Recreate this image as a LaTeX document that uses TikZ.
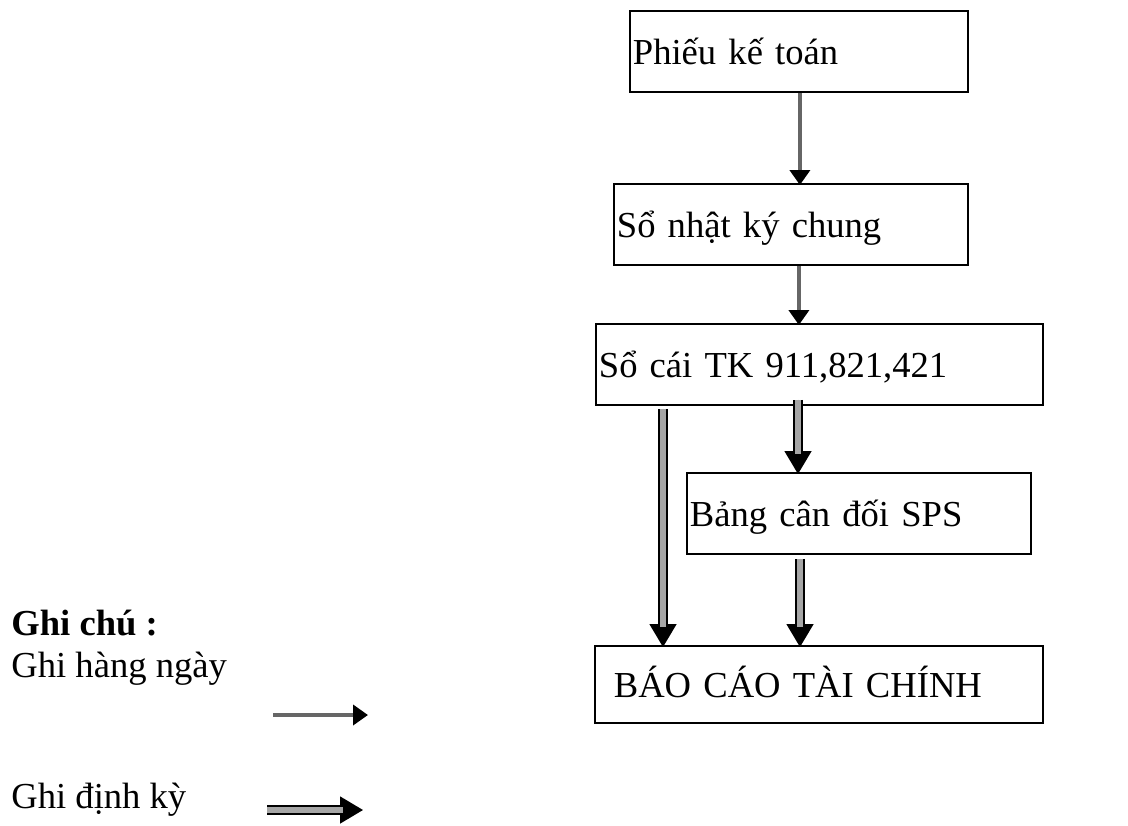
\documentclass[tikz,border=0pt]{standalone}
\usepackage{fontspec}
\setmainfont{Liberation Serif}
\usetikzlibrary{arrows.meta,calc}
\begin{document}
\begin{tikzpicture}[x=0.5pt,y=-0.5pt,
  txt/.style={font=\fontsize{18.3}{22}\selectfont},
  box/.style={txt, draw=black, line width=0.9pt, anchor=north west,
    inner xsep=1.5pt, inner ysep=0pt, align=left,
    text height=17pt, text depth=3.5pt},
  daily/.style={draw=black!60, line width=2.2pt,
    -{Triangle[length=7.5pt,width=10pt,color=black]}},
  periodic/.style={draw=black, line width=0.9pt, double=black!35,
    double distance=3.4pt, shorten >=10pt},
  periodictip/.style={draw=black, line width=0.8pt,
    -{Triangle[length=11.5pt,width=13.5pt,color=black]}},
  legend/.style={txt, anchor=base west, inner sep=0pt}]
\useasboundingbox (0,0) rectangle (1128,825);

% ledger chain
\node[box, minimum width=169pt, text width=166pt, minimum height=40.5pt] (p1) at (629,10) {Phiếu kế toán};
\node[box, minimum width=177pt, text width=174pt, minimum height=40.5pt] (p2) at (613,183) {Sổ nhật ký chung};
\node[box, minimum width=223.5pt, text width=220.5pt, minimum height=40.5pt] (p3) at (595,323) {Sổ cái TK 911,821,421};
\node[box, minimum width=172pt, text width=169pt, minimum height=40.5pt] (p4) at (686,472) {Bảng cân đối SPS};
\node[box, minimum width=224pt, inner xsep=9.5pt, text width=205pt, minimum height=38.5pt] (p5) at (594,645) {BÁO CÁO TÀI CHÍNH};

% daily postings
\draw[daily] ($(p1.south)+(1,0)$) -- ($(p1.south |- p2.north)+(1,2)$);
\draw[daily] ($(p2.south)+(8,0)$) -- ($(p2.south |- p3.north)+(8,2)$);

% periodic postings
\coordinate (a1) at ($(p3.south west)+(68,3)$);
\coordinate (b1) at ($(a1 |- p5.north)+(0,2)$);
\coordinate (a2) at ($(p3.south west)+(203,-6)$);
\coordinate (b2) at ($(a2 |- p4.north)+(0,2)$);
\coordinate (a3) at ($(p4.south west)+(114,4)$);
\coordinate (b3) at ($(a3 |- p5.north)+(0,2)$);
\foreach \s/\e in {a1/b1, a2/b2, a3/b3} {
  \draw[periodictip] (\s) -- (\e);
  \draw[periodic] (\s) -- (\e);
}

% legend
\node[legend, font=\fontsize{18.3}{22}\selectfont\bfseries] (note) at (11,635) {Ghi chú :};
\node[legend] (ld) at (11,677) {Ghi hàng ngày};
\node[legend] (lp) at (11,808) {Ghi định kỳ};
\coordinate (d1) at (273,715);
\coordinate (d2) at (368,715);
\draw[daily] (d1) -- (d2);
\coordinate (e1) at (267,810);
\coordinate (e2) at (363,810);
\draw[periodictip] (e1) -- (e2);
\draw[periodic] (e1) -- (e2);
\end{tikzpicture}
\end{document}
